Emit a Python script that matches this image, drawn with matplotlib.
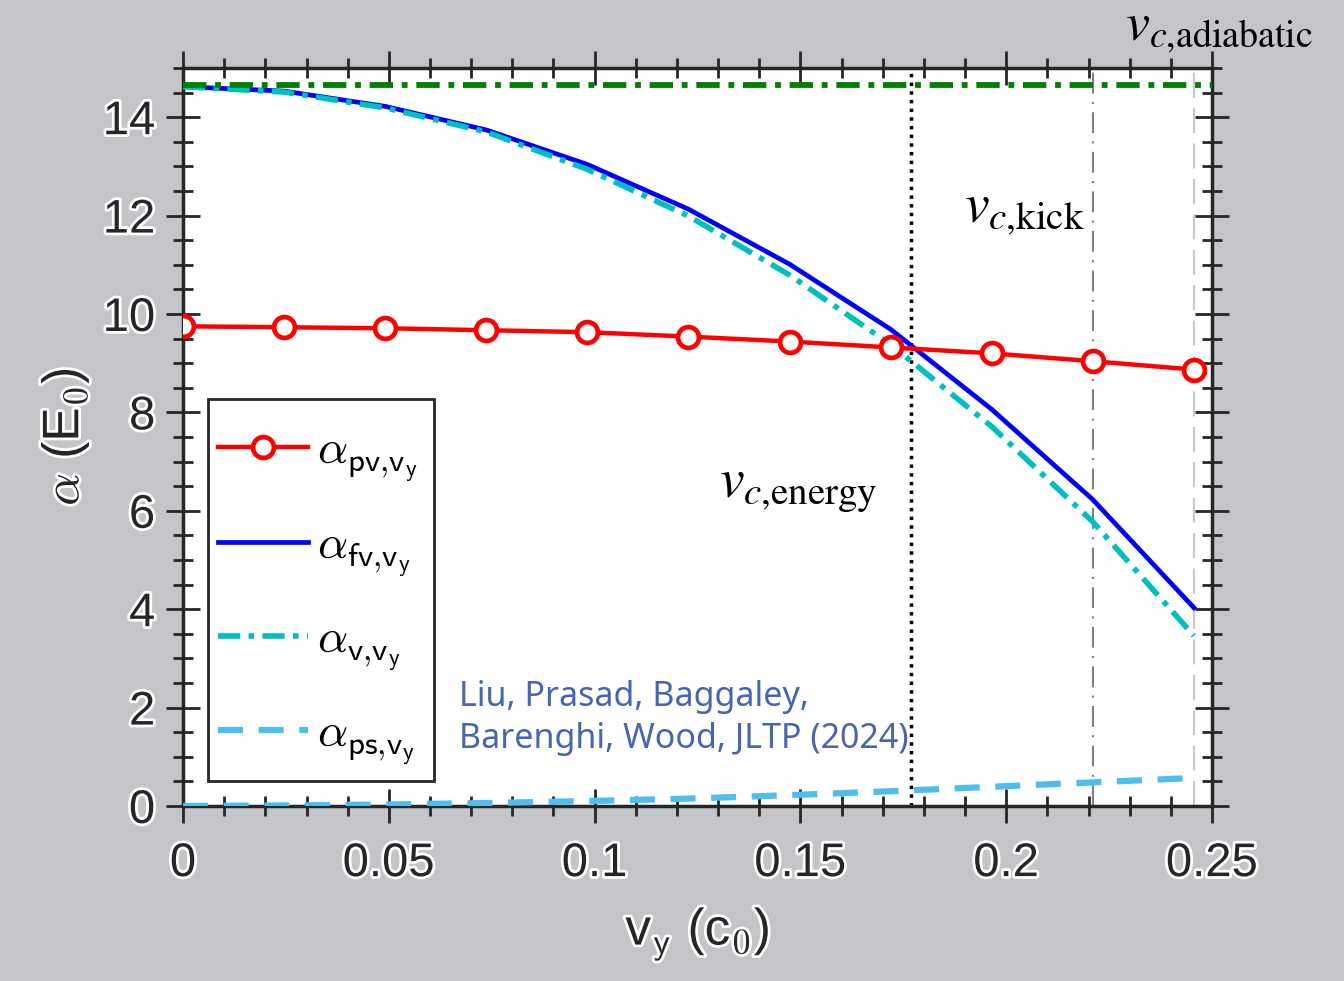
import matplotlib
matplotlib.use("Agg")
import matplotlib.pyplot as plt
import matplotlib.patheffects as pe
from matplotlib.patches import Rectangle
from matplotlib.ticker import MultipleLocator

# data
vy = [0, 0.0246, 0.0491, 0.0737, 0.0982, 0.1228, 0.1474, 0.1719, 0.1965, 0.2210, 0.2456]
alpha_pv = [9.75, 9.73, 9.71, 9.67, 9.63, 9.54, 9.44, 9.32, 9.20, 9.04, 8.87]
alpha_fv = [14.62, 14.53, 14.22, 13.74, 13.04, 12.13, 11.01, 9.69, 8.06, 6.23, 4.03]
alpha_v = [14.62, 14.51, 14.19, 13.70, 12.94, 11.99, 10.79, 9.38, 7.71, 5.78, 3.46]
alpha_ps = [0.0, 0.01, 0.03, 0.06, 0.10, 0.15, 0.22, 0.30, 0.39, 0.48, 0.57]
alpha_adiabatic = 14.65

v_energy = 0.1769
v_kick = 0.2211
v_adiabatic = 0.2456

labels = [r"$\alpha_{\mathsf{pv{,}v}_{\mathsf{y}}}$", r"$\alpha_{\mathsf{fv{,}v}_{\mathsf{y}}}$",
          r"$\alpha_{\mathsf{v{,}v}_{\mathsf{y}}}$", r"$\alpha_{\mathsf{ps{,}v}_{\mathsf{y}}}$"]

################################################################################

plt.rcParams['font.family'] = ['Liberation Sans', 'DejaVu Sans']
plt.rcParams['mathtext.fontset'] = 'cm'

ink = '#262626'
halo = [pe.withStroke(linewidth=4, foreground='white')]

fig = plt.figure(figsize=(13.44, 9.81), dpi=100, facecolor='#c4c5c9')
ax = fig.add_axes([0.1362, 0.1784, 0.7656, 0.7523])
ax.set_facecolor('white')

ax.plot([0, 0.25], [alpha_adiabatic, alpha_adiabatic], color='#008000', lw=4.2, ls=(0, (4, 1.5, 1, 1.5)), zorder=4)
ax.axvline(v_energy, color='black', lw=2.5, ls=(0, (1, 1.5)), zorder=2)
ax.axvline(v_kick, color='#808080', lw=1.5, ls=(0, (10, 4, 1, 4)), zorder=2)
ax.axvline(v_adiabatic, color='#c8c8c8', lw=1.5, ls=(0, (12, 5)), zorder=2)

l1, = ax.plot(vy, alpha_pv, color='red', lw=3.2, marker='o', ms=15, mfc='white', mew=3.4, zorder=5)
l2, = ax.plot(vy, alpha_fv, color='blue', lw=3.4, zorder=3)
l3, = ax.plot(vy, alpha_v, color='#00bfbf', lw=4, ls=(0, (4, 1.5, 1, 1.5)), zorder=3)
l4, = ax.plot(vy, alpha_ps, color='#4dbeee', lw=4.5, ls=(0, (4, 2.5)), zorder=3)

ax.set_xlim(0, 0.25)
ax.set_ylim(0, 15)
ax.xaxis.set_major_locator(MultipleLocator(0.05))
ax.xaxis.set_minor_locator(MultipleLocator(0.01))
ax.yaxis.set_major_locator(MultipleLocator(2))
ax.yaxis.set_minor_locator(MultipleLocator(0.5))
ax.set_xticks([0, 0.05, 0.1, 0.15, 0.2, 0.25])
ax.set_xticklabels(['0', '0.05', '0.1', '0.15', '0.2', '0.25'])
ax.tick_params(which='both', direction='inout', top=True, right=True, color=ink,
               labelsize=34, labelcolor=ink)
ax.tick_params(axis='x', pad=14)
ax.tick_params(axis='y', pad=8)
ax.tick_params(which='major', length=24, width=2)
ax.tick_params(which='minor', length=14, width=2)
for t in ax.get_xticklabels() + ax.get_yticklabels():
    t.set_path_effects(halo)
for s in ax.spines.values():
    s.set_linewidth(2.5)
    s.set_color(ink)

ax.set_xlabel(r"v$_\mathsf{y}$ (c$_\mathsf{0}$)", fontsize=37, color=ink, labelpad=14, path_effects=halo)
ax.set_ylabel(r"$\alpha$ (E$_\mathsf{0}$)", fontsize=37, color=ink, labelpad=8, path_effects=halo)

# legend box drawn separately so its padding can match
ax.add_patch(Rectangle((0.0243, 0.0339), 0.2196, 0.5176, transform=ax.transAxes,
                       facecolor='white', edgecolor=ink, lw=2, zorder=6))
leg = ax.legend([l1, l2, l3, l4], labels, loc='center left', bbox_to_anchor=(0.034, 0.281),
                borderaxespad=0, borderpad=0, fontsize=34, handlelength=1.9, labelspacing=0.84,
                handletextpad=0.2, frameon=False)
leg.set_zorder(7)

ax.text(0.1686, 6.28, r"$v_{c{,}\mathrm{energy}}$", fontsize=40, math_fontfamily='stix', ha='right', va='baseline')
ax.text(0.2191, 11.87, r"$v_{c{,}\mathrm{kick}}$", fontsize=40, math_fontfamily='stix', ha='right', va='baseline')
ax.text(0.2745, 15.56, r"$v_{c{,}\mathrm{adiabatic}}$", fontsize=39, math_fontfamily='stix', ha='right',
        va='baseline', clip_on=False)

ax.text(0.067, 1.02, "Liu, Prasad, Baggaley,\nBarenghi, Wood, JLTP (2024)", fontsize=24.5,
        family='Noto Sans', color='#4766b0', ha='left', va='bottom', linespacing=1.3, zorder=8)

fig.savefig("out.png", dpi=100, facecolor=fig.get_facecolor())
